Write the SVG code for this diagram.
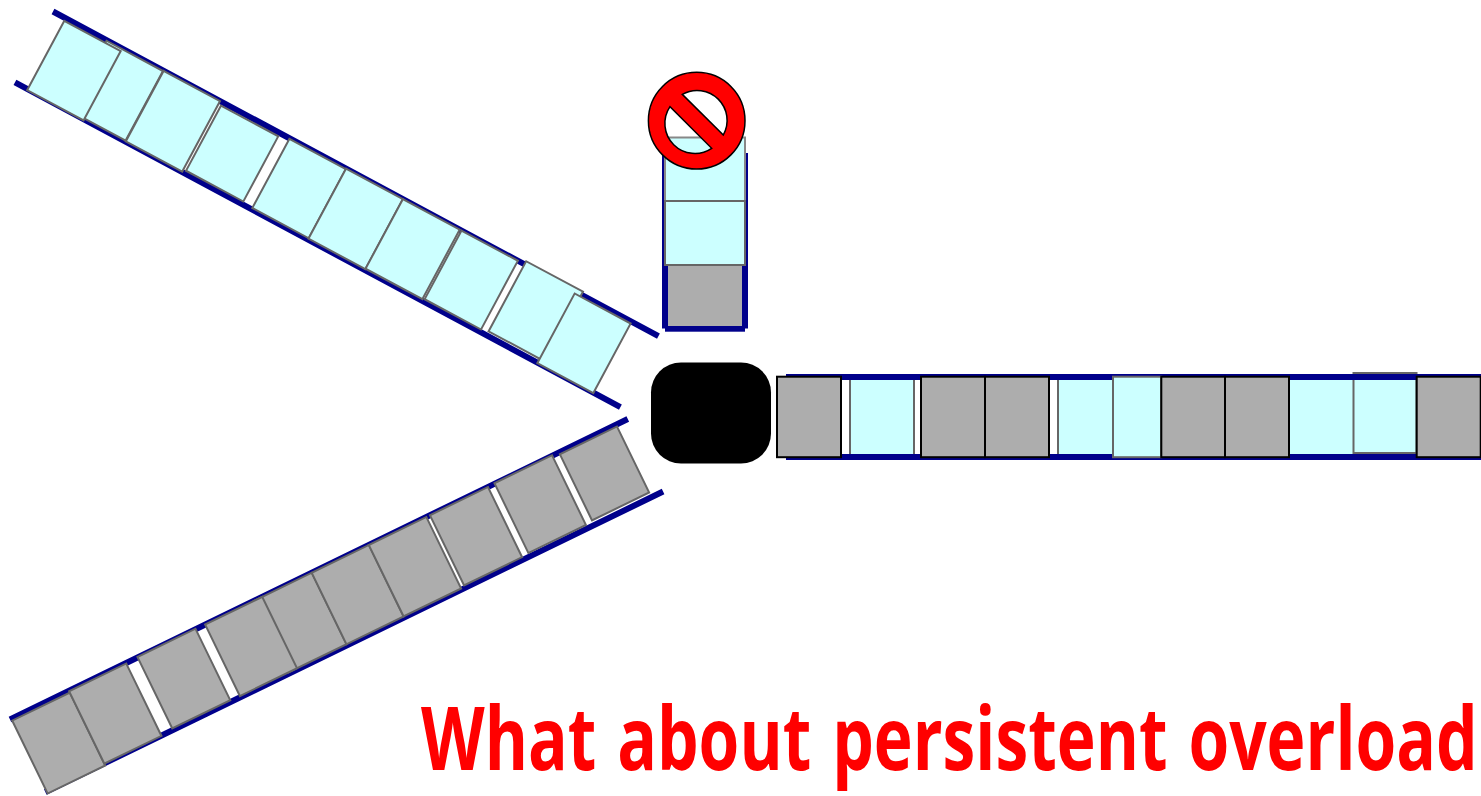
<svg xmlns="http://www.w3.org/2000/svg" width="1481" height="796" viewBox="0 0 1481 796">
<style>
.rail{stroke:#00008b;stroke-width:6;fill:none}
.c{fill:#ccffff;stroke:#666;stroke-width:2}
.g{fill:#adadad;stroke:#666;stroke-width:2}
.k{fill:#adadad;stroke:#000;stroke-width:2}
.t{font-family:"Open Sans","Noto Sans",sans-serif;font-weight:700;font-size:87px;fill:#f00;word-spacing:5px}
</style>
<rect width="1481" height="796" fill="#fff"/>
<g id="queue-upper" transform="translate(53 11.5) rotate(28.2)">
<path class="rail" d="M0 0H687M0 80.5H687"/>
<rect class="c" x="61" y=".5" width="64" height="79"/>
<rect class="c" x="14.4" y="3" width="64" height="78.5"/>
<rect class="c" x="125.5" y="0" width="64" height="80"/>
<rect class="c" x="192.5" y="3.5" width="65" height="74"/>
<rect class="c" x="268.5" y=".5" width="64" height="78.5"/>
<rect class="c" x="332.5" y="0" width="64.5" height="79.5"/>
<rect class="c" x="397" y="0" width="64.5" height="79"/>
<rect class="c" x="463.5" y="0" width="64" height="78"/>
<rect class="c" x="535" y="-3.5" width="64.5" height="79.5"/>
<rect class="c" x="593" y="2" width="63.5" height="79"/>
</g>
<g id="queue-lower" transform="translate(10 719.5) rotate(-25.94)">
<path class="rail" d="M0 0H687M0 80.7H687"/>
<rect class="g" x="1.5" y="2" width="64" height="81"/>
<rect class="g" x="65.5" y=".5" width="63.5" height="80.5"/>
<rect class="g" x="142" y="-.5" width="64.5" height="79.5"/>
<rect class="g" x="271" y="0" width="64.5" height="79.5"/>
<rect class="g" x="217" y="0" width="63.5" height="79.5"/>
<rect class="g" x="335.5" y="0" width="63.5" height="79.5"/>
<rect class="g" x="399" y="0" width="64" height="79.5"/>
<rect class="g" x="467" y="0" width="64.5" height="78"/>
<rect class="g" x="539" y="-.5" width="64" height="77.5"/>
<rect class="g" x="610.5" y="2" width="63.5" height="73.5"/>
</g>
<g id="queue-vertical">
<path class="rail" d="M665 153V328.5M745 153V328.5"/>
<rect x="665" y="326" width="80" height="5.7" fill="#00008b"/>
<rect x="668" y="265" width="74" height="61" fill="#adadad"/>
<rect class="c" x="665" y="137.5" width="80" height="63.5" style="stroke:#888"/>
<rect class="c" x="665" y="201" width="80" height="64"/>
</g>
<g id="queue-out">
<rect class="c" x="850" y="378" width="64" height="78"/>
<rect class="c" x="1058" y="378" width="56" height="78"/>
<rect class="c" x="1289" y="378" width="64" height="78" style="stroke:none"/>
<rect class="c" x="1353.5" y="373" width="63" height="80"/>
<path class="rail" d="M786 377H1481M786 457H1481"/>
<rect class="k" x="777" y="376.7" width="64" height="80.5"/>
<rect class="k" x="921" y="376.7" width="64" height="80.5"/>
<rect class="k" x="985" y="376.7" width="64" height="80.5"/>
<rect class="c" x="1113" y="376.7" width="48.3" height="80.5"/>
<rect class="k" x="1161.3" y="376.7" width="63.7" height="80.5"/>
<rect class="k" x="1225" y="376.7" width="64" height="80.5"/>
<rect class="k" x="1416.7" y="376.7" width="64" height="80.5"/>
</g>
<g id="router"><rect x="651" y="362.5" width="120" height="101" rx="30" fill="#000"/></g>
<g id="stop-sign"><path fill="#f00" fill-rule="evenodd" stroke="#000" stroke-width="1.5" d="M648.4 120.7a48.3 48.3 0 1 0 96.6 0a48.3 48.3 0 1 0-96.6 0ZM682.3 94.3A30 30 0 0 1 723.3 135ZM670 106.7A30 30 0 0 0 711.7 148.3Z"/></g>
<g id="title"><text class="t" transform="translate(421 770) scale(.757 1)">What about persistent overload</text></g>
</svg>
